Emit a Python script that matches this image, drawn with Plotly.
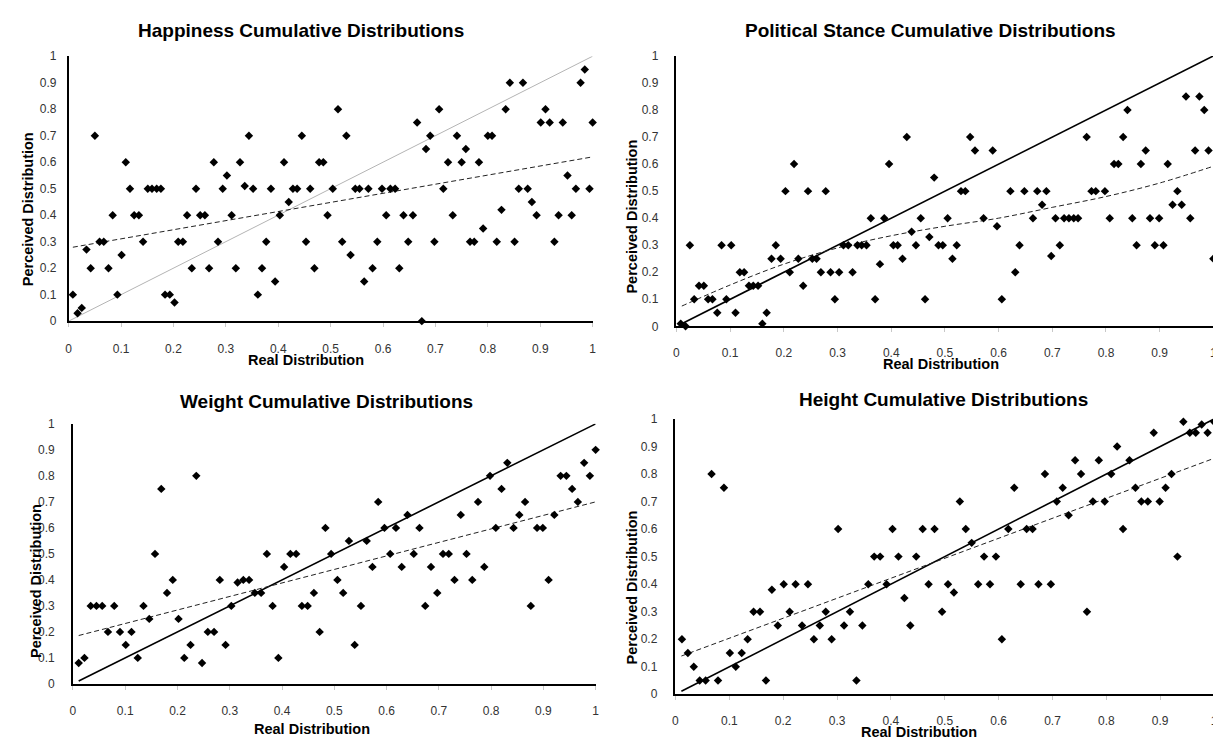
import plotly.graph_objects as go

W, H = 1221, 745

# ---------------- data ----------------
tick_vals = [0, 0.1, 0.2, 0.3, 0.4, 0.5, 0.6, 0.7, 0.8, 0.9, 1]
tick_text = ["0", "0.1", "0.2", "0.3", "0.4", "0.5", "0.6", "0.7", "0.8", "0.9", "1"]

titles = ["Happiness Cumulative Distributions", "Political Stance Cumulative Distributions",
          "Weight Cumulative Distributions", "Height Cumulative Distributions"]

# Happiness
happy_x = [0.008, 0.017, 0.025, 0.034, 0.042, 0.050, 0.059, 0.067, 0.076, 0.084, 0.093, 0.101, 0.109, 0.117, 0.125,
           0.134, 0.142, 0.151, 0.159, 0.168, 0.176, 0.184, 0.193, 0.202, 0.209, 0.218, 0.226, 0.235, 0.243, 0.251,
           0.260, 0.268, 0.277, 0.285, 0.294, 0.302, 0.311, 0.319, 0.327, 0.336, 0.344, 0.352, 0.361, 0.369, 0.377,
           0.386, 0.394, 0.403, 0.411, 0.420, 0.428, 0.436, 0.445, 0.453, 0.461, 0.469, 0.478, 0.486, 0.494,
           0.504, 0.514, 0.522, 0.530, 0.538, 0.547, 0.555, 0.564, 0.572, 0.580, 0.589, 0.598, 0.606, 0.614, 0.623,
           0.631, 0.639, 0.648, 0.657, 0.665, 0.674, 0.682, 0.690, 0.698, 0.707, 0.715, 0.724, 0.733, 0.741, 0.750,
           0.758, 0.766, 0.774, 0.783, 0.791, 0.800, 0.808, 0.817, 0.826, 0.834, 0.842, 0.851, 0.859, 0.867, 0.876,
           0.884, 0.893, 0.901, 0.910, 0.918, 0.927, 0.935, 0.943, 0.952, 0.960, 0.968, 0.977, 0.985, 0.994, 1.0]
happy_y = [0.1, 0.03, 0.05, 0.27, 0.2, 0.7, 0.3, 0.3, 0.2, 0.4, 0.1, 0.25, 0.6, 0.5, 0.4, 0.4, 0.3, 0.5, 0.5, 0.5,
           0.5, 0.1, 0.1, 0.07, 0.3, 0.3, 0.4, 0.2, 0.5, 0.4, 0.4, 0.2, 0.6, 0.3, 0.5, 0.55, 0.4, 0.2, 0.6, 0.51,
           0.7, 0.5, 0.1, 0.2, 0.3, 0.5, 0.15, 0.4, 0.6, 0.45, 0.5, 0.5, 0.7, 0.3, 0.5, 0.2, 0.6, 0.6, 0.4,
           0.5, 0.8, 0.3, 0.7, 0.25, 0.5, 0.5, 0.15, 0.5, 0.2, 0.3, 0.5, 0.4, 0.5, 0.5, 0.2, 0.4, 0.3, 0.4, 0.75,
           0.0, 0.65, 0.7, 0.3, 0.8, 0.5, 0.6, 0.4, 0.7, 0.6, 0.65, 0.3, 0.3, 0.6, 0.35, 0.7, 0.7, 0.3, 0.42, 0.8,
           0.9, 0.3, 0.5, 0.9, 0.5, 0.45, 0.4, 0.75, 0.8, 0.75, 0.3, 0.4, 0.75, 0.55, 0.4, 0.5, 0.9, 0.95, 0.5, 0.75]
happy_ref_x = [0.0, 1.0]
happy_ref_y = [0.0, 1.0]
happy_trend_x = [0.008, 1.0]
happy_trend_y = [0.279, 0.62]

# Political stance
pol_x = [0.008, 0.017, 0.025, 0.033, 0.042, 0.051, 0.059, 0.067, 0.076, 0.084, 0.093, 0.102, 0.110, 0.118, 0.126,
         0.135, 0.143, 0.152, 0.160, 0.168, 0.177, 0.185, 0.194, 0.203, 0.211, 0.219, 0.227, 0.236, 0.245, 0.253,
         0.261, 0.269, 0.278, 0.287, 0.295, 0.303, 0.311, 0.320, 0.328, 0.337, 0.345, 0.354, 0.362, 0.370, 0.379,
         0.387, 0.396, 0.404, 0.412, 0.421, 0.429, 0.438, 0.446, 0.455, 0.463, 0.471, 0.480,
         0.488, 0.496, 0.505, 0.514, 0.522, 0.530, 0.538, 0.547, 0.556, 0.572, 0.589, 0.597, 0.606, 0.622, 0.631,
         0.639, 0.648, 0.664, 0.672, 0.681, 0.689, 0.698, 0.706, 0.714, 0.722, 0.731, 0.740, 0.748, 0.764, 0.773,
         0.781, 0.798, 0.807, 0.815, 0.823, 0.832, 0.840, 0.849, 0.857, 0.865, 0.874, 0.882, 0.891, 0.899, 0.907,
         0.915, 0.924, 0.933, 0.941, 0.949, 0.957, 0.966, 0.974, 0.983, 0.991, 1.0]
pol_y = [0.01, 0.0, 0.3, 0.1, 0.15, 0.15, 0.1, 0.1, 0.05, 0.3, 0.1, 0.3, 0.05, 0.2, 0.2, 0.15, 0.15, 0.15, 0.01, 0.05,
         0.25, 0.3, 0.25, 0.5, 0.2, 0.6, 0.25, 0.15, 0.5, 0.25, 0.25, 0.2, 0.5, 0.2, 0.1, 0.2, 0.3, 0.3, 0.2, 0.3,
         0.3, 0.3, 0.4, 0.1, 0.23, 0.4, 0.6, 0.3, 0.3, 0.25, 0.7, 0.35, 0.3, 0.4, 0.1, 0.33, 0.55,
         0.3, 0.3, 0.4, 0.25, 0.3, 0.5, 0.5, 0.7, 0.65, 0.4, 0.65, 0.37, 0.1, 0.5, 0.2, 0.3, 0.5, 0.4, 0.5, 0.45,
         0.5, 0.26, 0.4, 0.3, 0.4, 0.4, 0.4, 0.4, 0.7, 0.5, 0.5, 0.5, 0.4, 0.6, 0.6, 0.7, 0.8, 0.4, 0.3, 0.6,
         0.65, 0.4, 0.3, 0.4, 0.3, 0.6, 0.45, 0.5, 0.45, 0.85, 0.4, 0.65, 0.85, 0.8, 0.65, 0.25]
pol_ref_x = [0.008, 1.0]
pol_ref_y = [0.008, 1.0]
pol_trend_x = [0.01, 0.1, 0.2, 0.3, 0.4, 0.5, 0.6, 0.7, 0.8, 0.9, 1.0]
pol_trend_y = [0.075, 0.153, 0.23, 0.29, 0.335, 0.37, 0.40, 0.44, 0.48, 0.53, 0.592]

# Weight
wt_x = [0.011, 0.022, 0.034, 0.045, 0.056, 0.067, 0.079, 0.090, 0.101, 0.112, 0.124, 0.135, 0.146, 0.157, 0.169,
        0.180, 0.191, 0.202, 0.213, 0.225, 0.236, 0.247, 0.258, 0.270, 0.281, 0.292, 0.303, 0.315, 0.326, 0.337,
        0.348, 0.360, 0.371, 0.382, 0.393, 0.404, 0.416, 0.427, 0.438, 0.449, 0.461, 0.472, 0.483,
        0.494, 0.506, 0.517, 0.528, 0.539, 0.551, 0.562, 0.573, 0.584, 0.596, 0.607, 0.618, 0.629, 0.640, 0.652,
        0.663, 0.674, 0.685, 0.697, 0.708, 0.719, 0.730, 0.742, 0.753, 0.764, 0.775, 0.787, 0.798, 0.809, 0.820,
        0.831, 0.843, 0.854, 0.865, 0.876, 0.888, 0.899, 0.910, 0.921, 0.933, 0.944, 0.955, 0.966, 0.978, 0.989, 1.0]
wt_y = [0.08, 0.1, 0.3, 0.3, 0.3, 0.2, 0.3, 0.2, 0.15, 0.2, 0.1, 0.3, 0.25, 0.5, 0.75, 0.35, 0.4, 0.25, 0.1, 0.15,
        0.8, 0.08, 0.2, 0.2, 0.4, 0.15, 0.3, 0.39, 0.4, 0.4, 0.35, 0.35, 0.5, 0.3, 0.1, 0.45, 0.5, 0.5, 0.3, 0.3,
        0.35, 0.2, 0.6,
        0.5, 0.4, 0.35, 0.55, 0.15, 0.3, 0.55, 0.45, 0.7, 0.6, 0.5, 0.6, 0.45, 0.65, 0.5, 0.6, 0.3, 0.45, 0.35, 0.5,
        0.5, 0.4, 0.65, 0.5, 0.4, 0.7, 0.45, 0.8, 0.6, 0.75, 0.85, 0.6, 0.65, 0.7, 0.3, 0.6, 0.6, 0.4, 0.65, 0.8,
        0.8, 0.75, 0.7, 0.85, 0.8, 0.9]
wt_ref_x = [0.011, 1.0]
wt_ref_y = [0.011, 1.0]
wt_trend_x = [0.011, 1.0]
wt_trend_y = [0.186, 0.70]

# Height
ht_x = [0.012, 0.023, 0.034, 0.045, 0.056, 0.067, 0.079, 0.090, 0.101, 0.112, 0.123, 0.134, 0.145, 0.157, 0.168,
        0.179, 0.190, 0.201, 0.212, 0.223, 0.235, 0.246, 0.257, 0.268, 0.279, 0.290, 0.302, 0.313, 0.324, 0.336,
        0.347, 0.358, 0.369, 0.380, 0.392, 0.403, 0.414, 0.425, 0.436, 0.447, 0.459, 0.470, 0.481,
        0.495, 0.506, 0.517, 0.528, 0.539, 0.550, 0.562, 0.573, 0.584, 0.595, 0.606, 0.618, 0.629, 0.641, 0.652,
        0.663, 0.674, 0.686, 0.697, 0.708, 0.719, 0.730, 0.742, 0.753, 0.764, 0.775, 0.786, 0.797, 0.809, 0.820,
        0.831, 0.843, 0.854, 0.865, 0.877, 0.888, 0.899, 0.910, 0.921, 0.932, 0.943, 0.955, 0.966, 0.977, 0.988, 1.0]
ht_y = [0.2, 0.15, 0.1, 0.05, 0.05, 0.8, 0.05, 0.75, 0.15, 0.1, 0.15, 0.2, 0.3, 0.3, 0.05, 0.38, 0.25, 0.4, 0.3, 0.4,
        0.25, 0.4, 0.2, 0.25, 0.3, 0.2, 0.6, 0.25, 0.3, 0.05, 0.25, 0.4, 0.5, 0.5, 0.4, 0.6, 0.5, 0.35, 0.25, 0.5,
        0.6, 0.4, 0.6,
        0.3, 0.4, 0.37, 0.7, 0.6, 0.55, 0.4, 0.5, 0.4, 0.5, 0.2, 0.6, 0.75, 0.4, 0.6, 0.6, 0.4, 0.8, 0.4, 0.7,
        0.75, 0.65, 0.85, 0.8, 0.3, 0.7, 0.85, 0.7, 0.8, 0.9, 0.6, 0.85, 0.75, 0.7, 0.7, 0.95, 0.7, 0.75, 0.8, 0.5,
        0.99, 0.95, 0.95, 0.98, 0.95, 0.99]
ht_ref_x = [0.011, 1.0]
ht_ref_y = [0.011, 1.0]
ht_trend_x = [0.011, 1.0]
ht_trend_y = [0.139, 0.857]

# ---------------- layout geometry (pixels) ----------------
# (left, right, top, bottom) of each plot area
boxes = [(58, 585, 42, 312), (669.3, 1209.3, 41.7, 317.3), (62.3, 588, 416.7, 681.7), (668.3, 1210, 411.7, 692.3)]
title_pos = [(292, 16), (925, 16), (317, 394), (938, 392)]
xtitle_pos = [(297, 352), (935, 356), (303, 728), (913, 731)]
ytitle_pos = [(17, 198), (625, 205), (25, 577), (625, 583)]
ystandoff = [8, 14, 14, 14]
xstandoff = [12, 11, 11, 11]

FONT = "Liberation Sans, Arial, sans-serif"


def px(x):
    return x / W


def py(y):
    return 1 - y / H


fig = go.Figure()

panels = [
    (happy_x, happy_y, happy_ref_x, happy_ref_y, dict(color="#b4b4b4", width=1), happy_trend_x, happy_trend_y, "linear"),
    (pol_x, pol_y, pol_ref_x, pol_ref_y, dict(color="black", width=1.6), pol_trend_x, pol_trend_y, "spline"),
    (wt_x, wt_y, wt_ref_x, wt_ref_y, dict(color="black", width=1.6), wt_trend_x, wt_trend_y, "linear"),
    (ht_x, ht_y, ht_ref_x, ht_ref_y, dict(color="black", width=1.6), ht_trend_x, ht_trend_y, "linear"),
]

annotations = []
for i, (xs, ys, rx, ry, rline, tx, ty, shape) in enumerate(panels):
    n = i + 1
    xa = "x" if n == 1 else f"x{n}"
    ya = "y" if n == 1 else f"y{n}"
    fig.add_trace(go.Scatter(x=rx, y=ry, mode="lines", line=rline, xaxis=xa, yaxis=ya,
                             showlegend=False, hoverinfo="skip", cliponaxis=False))
    fig.add_trace(go.Scatter(x=tx, y=ty, mode="lines",
                             line=dict(color="#222", width=1, dash="5px,3px", shape=shape),
                             xaxis=xa, yaxis=ya, showlegend=False, hoverinfo="skip", cliponaxis=False))
    fig.add_trace(go.Scatter(x=xs, y=ys, mode="markers",
                             marker=dict(symbol="diamond", size=6.5, color="black", line=dict(width=0)),
                             xaxis=xa, yaxis=ya, showlegend=False, cliponaxis=False))

    l, r, t, b = boxes[i]
    xkey = "xaxis" if n == 1 else f"xaxis{n}"
    ykey = "yaxis" if n == 1 else f"yaxis{n}"
    fig.layout[xkey] = dict(domain=[px(l), px(r)], range=[0, 1], anchor=ya,
                            showgrid=False, zeroline=False, showline=True, linecolor="black", linewidth=1.5,
                            tickmode="array", tickvals=tick_vals, ticktext=tick_text,
                            ticks="outside", ticklen=4, tickcolor="#c8c8c8", tickwidth=1,
                            ticklabelstandoff=xstandoff[i],
                            tickfont=dict(family=FONT, size=12, color="#333"), fixedrange=True)
    fig.layout[ykey] = dict(domain=[py(b), py(t)], range=[0, 1], anchor=xa,
                            showgrid=False, zeroline=False, showline=True, linecolor="black", linewidth=1.5,
                            tickmode="array", tickvals=tick_vals, ticktext=tick_text,
                            ticks="", ticklabelstandoff=ystandoff[i],
                            tickfont=dict(family=FONT, size=12, color="#333"), fixedrange=True)

    tx_, ty_ = title_pos[i]
    annotations.append(dict(text=f"<b>{titles[i]}</b>", x=px(tx_), y=py(ty_), xref="paper", yref="paper",
                            showarrow=False, xanchor="center", yanchor="middle",
                            font=dict(family=FONT, size=19, color="black")))
    xx, xy = xtitle_pos[i]
    annotations.append(dict(text="<b>Real Distribution</b>", x=px(xx), y=py(xy), xref="paper", yref="paper",
                            showarrow=False, xanchor="center", yanchor="middle",
                            font=dict(family=FONT, size=14.5, color="black")))
    yx, yy = ytitle_pos[i]
    annotations.append(dict(text="<b>Perceived Distribution</b>", x=px(yx), y=py(yy), xref="paper", yref="paper",
                            showarrow=False, xanchor="center", yanchor="middle", textangle=-90,
                            font=dict(family=FONT, size=14.5, color="black")))

fig.update_layout(width=W, height=H, margin=dict(l=0, r=0, t=0, b=0),
                  paper_bgcolor="white", plot_bgcolor="white",
                  annotations=annotations, showlegend=False)

fig.write_html("out.html")
